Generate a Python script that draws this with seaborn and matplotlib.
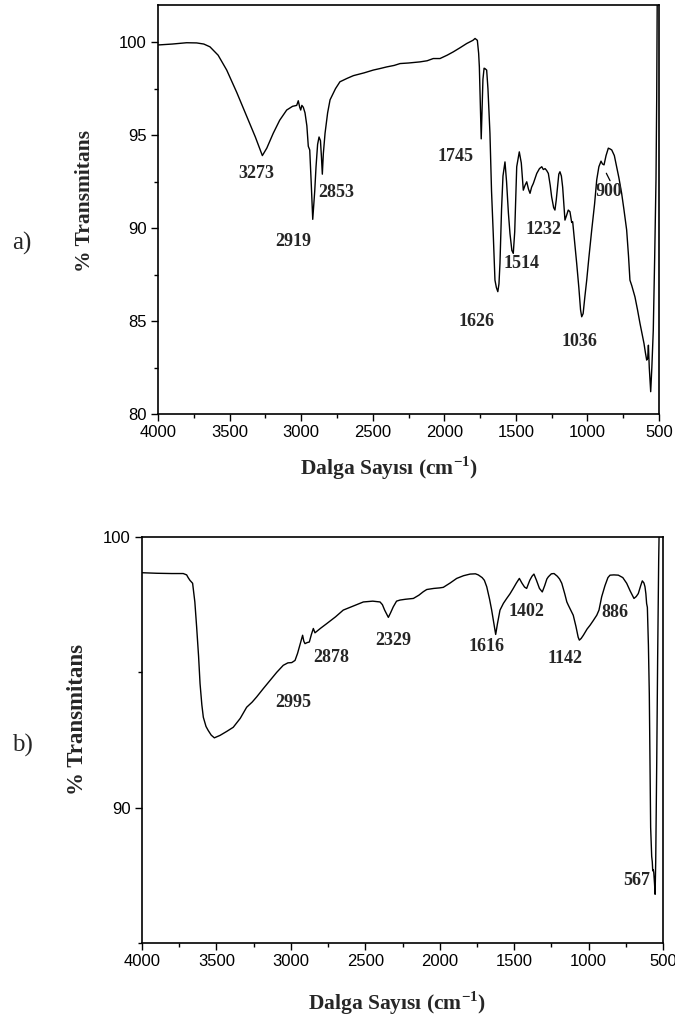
import numpy as np
import pandas as pd
import matplotlib
matplotlib.use("Agg")
import matplotlib.pyplot as plt
import seaborn as sns
from matplotlib.ticker import MultipleLocator

# ---------------- data ----------------
wn_a = [4000, 3900, 3800, 3730, 3680, 3637, 3580, 3520, 3450, 3380, 3320, 3271, 3240, 3195,
        3150, 3101, 3060, 3031, 3020, 3010, 3003, 2995, 2985, 2973, 2960, 2950, 2940, 2930,
        2919, 2905, 2896, 2885, 2875, 2865, 2858, 2852, 2845, 2833, 2815, 2798, 2760, 2729,
        2680, 2635, 2560, 2496, 2450, 2402, 2350, 2309, 2250, 2170, 2120, 2077, 2030, 1980,
        1937, 1890, 1843, 1800, 1785, 1769, 1760, 1755, 1748, 1742, 1736, 1730, 1722, 1716,
        1704, 1695, 1681, 1670, 1658, 1646, 1636, 1626, 1618, 1611, 1600, 1590, 1576, 1565,
        1552, 1541, 1528, 1518, 1508, 1494, 1476, 1462, 1448, 1436, 1424, 1412, 1401, 1390,
        1378, 1354, 1335, 1319, 1308, 1296, 1285, 1273, 1260, 1250, 1236, 1227, 1218, 1211,
        1200, 1192, 1182, 1173, 1165, 1157, 1145, 1134, 1122, 1110, 1103, 1090, 1075, 1060,
        1048, 1040, 1030, 1018, 1005, 990, 970, 950, 935, 920, 905, 895, 884, 870, 854, 840,
        830, 812, 796, 780, 761, 745, 726, 713, 703, 690, 668, 650, 633, 618, 605, 595, 586,
        579, 574, 568, 558, 550, 540, 530, 521, 516, 512]
tr_a = [99.85, 99.9, 99.97, 99.96, 99.9, 99.75, 99.3, 98.5, 97.3, 96.0, 94.9, 93.9, 94.3, 95.1,
        95.8, 96.35, 96.55, 96.6, 96.85, 96.5, 96.35, 96.6, 96.5, 96.2, 95.5, 94.4, 94.2, 92.5,
        90.47, 92.0, 93.3, 94.5, 94.9, 94.7, 93.8, 92.9, 94.0, 95.1, 96.2, 96.9, 97.5, 97.87,
        98.05, 98.2, 98.35, 98.5, 98.58, 98.67, 98.75, 98.85, 98.88, 98.94, 99.0, 99.12, 99.12, 99.3,
        99.48, 99.7, 99.93, 100.1, 100.2, 100.1, 99.4, 98.67, 96.5, 94.8, 96.5, 98.0, 98.6, 98.58,
        98.5, 97.5, 95.1, 92.0, 89.7, 87.2, 86.8, 86.58, 87.0, 88.1, 91.0, 92.8, 93.56, 92.5,
        90.8, 89.7, 88.8, 88.64, 89.8, 93.3, 94.1, 93.5, 92.04, 92.3, 92.49, 92.1, 91.87, 92.2,
        92.4, 92.94, 93.2, 93.3, 93.15, 93.2, 93.1, 92.94, 92.3, 91.68, 91.1, 90.97, 91.5, 92.04,
        92.9, 93.03, 92.8, 92.2, 91.3, 90.43, 90.7, 90.97, 90.88, 90.3, 90.34, 89.3, 88.1, 86.8,
        85.6, 85.23, 85.4, 86.3, 87.2, 88.4, 89.9, 91.3, 92.6, 93.3, 93.6, 93.45, 93.4, 93.9, 94.3, 94.25,
        94.2, 93.9, 93.3, 92.7, 91.87, 91.0, 89.9, 88.5, 87.2, 86.9, 86.3, 85.6, 84.88, 84.3, 83.8, 83.3, 82.9,
        83.0, 83.7, 82.5, 81.2, 82.5, 84.5, 88.5, 92.6, 97.0, 103.0]

wn_b = [4000, 3900, 3800, 3723, 3700, 3690, 3678, 3660, 3645, 3633, 3620, 3610, 3598, 3588,
        3570, 3555, 3535, 3514, 3476, 3430, 3387, 3340, 3297, 3260, 3230, 3185, 3140, 3095,
        3051, 3020, 2994, 2972, 2955, 2943, 2930, 2921, 2913, 2905, 2890, 2876, 2862, 2849,
        2838, 2800, 2759, 2700, 2648, 2580, 2513, 2450, 2401, 2385, 2370, 2345, 2330, 2312,
        2290, 2267, 2230, 2177, 2140, 2110, 2087, 2040, 2000, 1976, 1930, 1886, 1840, 1796,
        1760, 1741, 1715, 1700, 1684, 1665, 1651, 1636, 1624, 1612, 1595, 1572, 1550, 1528,
        1506, 1485, 1465, 1448, 1430, 1416, 1395, 1380, 1367, 1350, 1330, 1311, 1295, 1280,
        1270, 1250, 1232, 1210, 1195, 1180, 1160, 1146, 1136, 1120, 1103, 1085, 1070, 1062,
        1050, 1035, 1010, 990, 970, 945, 930, 912, 890, 870, 856, 830, 800, 770, 744, 720,
        695, 680, 666, 650, 639, 628, 621, 615, 610, 605, 598, 592, 588, 583, 576, 572, 569,
        565, 562, 557, 553, 549, 542, 536, 529, 522]
tr_b = [98.68, 98.66, 98.65, 98.65, 98.6, 98.5, 98.4, 98.29, 97.6, 96.68, 95.6, 94.58, 93.8, 93.34,
        93.0, 92.85, 92.68, 92.58, 92.67, 92.82, 92.97, 93.3, 93.71, 93.9, 94.09, 94.4, 94.7, 95.0,
        95.26, 95.35, 95.36, 95.44, 95.7, 95.94, 96.2, 96.37, 96.15, 96.06, 96.1, 96.12, 96.4, 96.62,
        96.46, 96.63, 96.8, 97.05, 97.3, 97.45, 97.6, 97.63, 97.6, 97.5, 97.3, 97.03, 97.2, 97.42,
        97.63, 97.67, 97.7, 97.73, 97.85, 97.98, 98.06, 98.1, 98.12, 98.14, 98.3, 98.47, 98.57, 98.63,
        98.64, 98.6, 98.5, 98.4, 98.16, 97.7, 97.3, 96.8, 96.4, 96.8, 97.3, 97.55, 97.73, 97.9,
        98.1, 98.3, 98.47, 98.3, 98.15, 98.1, 98.4, 98.55, 98.63, 98.4, 98.1, 97.97, 98.2, 98.45,
        98.53, 98.64, 98.65, 98.55, 98.45, 98.29, 97.9, 97.6, 97.48, 97.3, 97.11, 96.7, 96.3, 96.19,
        96.25, 96.37, 96.6, 96.74, 96.9, 97.11, 97.3, 97.79, 98.2, 98.5, 98.59, 98.6, 98.59, 98.5, 98.29, 98.0,
        97.73, 97.8, 97.91, 98.2, 98.38, 98.3, 98.16, 97.9, 97.54, 97.4, 96.0, 94.2, 92.0, 89.27, 88.2, 88.0, 87.67,
        87.7, 87.6, 87.2, 86.8, 88.0, 91.74, 95.5, 99.15, 101.5]

labels_a = ["3273", "2919", "2853", "1745", "1626", "1514", "1232", "1036", "900"]
lab_a_x = [3310, 3055, 2757, 1925, 1774, 1459, 1308, 1057, 847]
lab_a_y = [92.94, 89.3, 91.9, 93.87, 85.0, 88.1, 89.95, 83.9, 91.95]

labels_b = ["2995", "2878", "2329", "1616", "1402", "1142", "886", "567"]
lab_b_x = [2984, 2730, 2314, 1684, 1416, 1158, 822, 677]
lab_b_y = [93.9, 95.54, 96.16, 95.97, 97.26, 95.51, 97.2, 87.3]

xticks = [4000, 3500, 3000, 2500, 2000, 1500, 1000, 500]

# ---------------- style ----------------
sns.set_theme(style="ticks")
plt.rcParams.update({
    "font.family": ["Liberation Sans", "DejaVu Sans"],
    "mathtext.fontset": "custom",
    "mathtext.rm": "Liberation Serif",
    "mathtext.bf": "Liberation Serif:bold",
    "axes.edgecolor": "black",
    "axes.linewidth": 1.2,
    "xtick.color": "black",
    "ytick.color": "black",
    "xtick.direction": "out",
    "ytick.direction": "out",
})
serif = ["Liberation Serif", "DejaVu Serif"]

fig = plt.figure(figsize=(6.75, 10.19), dpi=100)
ax1 = fig.add_axes([158 / 675, 1 - 414 / 1019, 501 / 675, 409 / 1019])
ax2 = fig.add_axes([142 / 675, 1 - 943 / 1019, 521 / 675, 406 / 1019])

df_a = pd.DataFrame({"wn": wn_a, "T": tr_a})
df_b = pd.DataFrame({"wn": wn_b, "T": tr_b})

sns.lineplot(data=df_a, x="wn", y="T", ax=ax1, color="black", lw=1.0,
             estimator=None, sort=False)
sns.lineplot(data=df_b, x="wn", y="T", ax=ax2, color="black", lw=1.0,
             estimator=None, sort=False)

for ax, ylim, ymaj, ymin in [(ax1, (80, 102), 5, 2.5), (ax2, (85, 100), 10, 5)]:
    ax.set_xlim(4000, 500)
    ax.set_ylim(*ylim)
    ax.set_xticks(xticks)
    ax.xaxis.set_minor_locator(MultipleLocator(250))
    ax.yaxis.set_major_locator(MultipleLocator(ymaj))
    ax.yaxis.set_minor_locator(MultipleLocator(ymin))
    ax.tick_params(axis="both", which="major", length=5, width=1.0, labelsize=12, pad=3)
    ax.tick_params(axis="both", which="minor", length=3, width=1.0)
    for s in ax.spines.values():
        s.set_visible(True)
        s.set_color("black")
    ax.grid(False)
    ax.set_xlabel("")
    ax.set_ylabel("")

ax1.set_yticks([80, 85, 90, 95, 100])
ax2.set_yticks([90, 100])

lblkw = dict(fontsize=15.5, fontweight="bold", family=serif)
ax1.set_ylabel("% Transmitans", **lblkw)
ax1.yaxis.set_label_coords(-0.125, 0.52)
ax2.set_ylabel("% Transmitans", fontsize=16.5, fontweight="bold", family=serif)
ax2.yaxis.set_label_coords(-0.104, 0.55)

xlabel = r"Dalga Sayısı (cm$^{\mathbf{-1}}$)"
ax1.text(0.461, -0.132, xlabel, transform=ax1.transAxes, ha="center", va="center", **lblkw)
ax2.text(0.489, -0.148, xlabel, transform=ax2.transAxes, ha="center", va="center", **lblkw)

annkw = dict(fontsize=13, fontweight="bold", family=serif, ha="center", va="center")
for t, x, y in zip(labels_a, lab_a_x, lab_a_y):
    ax1.text(x, y, t, **annkw)
for t, x, y in zip(labels_b, lab_b_x, lab_b_y):
    ax2.text(x, y, t, **annkw)

# leader line for the 900 label
ax1.annotate("", xy=(842, 92.55), xytext=(868, 92.95),
             arrowprops=dict(arrowstyle="-", color="black", lw=0.9,
                             shrinkA=0, shrinkB=0))

fig.text(22 / 675, 1 - 243 / 1019, "a)", fontsize=18, family=serif, ha="center", va="center")
fig.text(22 / 675, 1 - 745 / 1019, "b)", fontsize=18, family=serif, ha="center", va="center")

fig.savefig("out.png", dpi=100)
